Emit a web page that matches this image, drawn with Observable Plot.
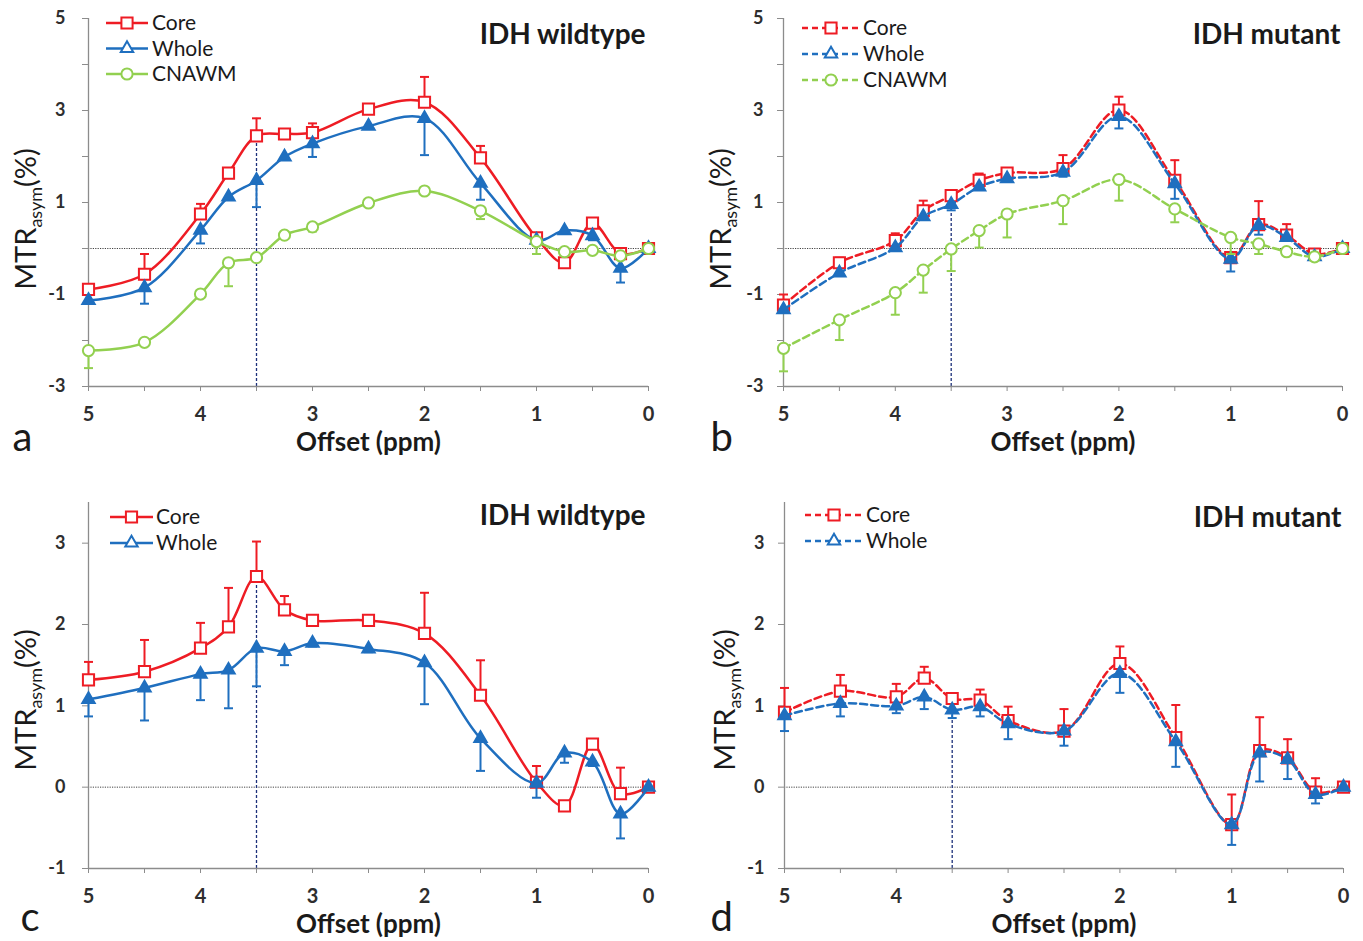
<!DOCTYPE html>
<html><head><meta charset="utf-8">
<script src="https://cdn.jsdelivr.net/npm/d3@7"></script>
<script src="https://cdn.jsdelivr.net/npm/@observablehq/plot@0.6"></script>
<style>
body{margin:0;background:#fff;}
#wrap{position:relative;width:1363px;height:941px;overflow:hidden;background:#fff;}
.panel{position:absolute;}
</style></head><body><div id="wrap"></div>
<script>
// ---------- data ----------
const offsets = [5, 4.5, 4, 3.75, 3.5, 3.25, 3, 2.5, 2, 1.5, 1, 0.75, 0.5, 0.25, 0];
const seriesNames = ["Core", "Whole", "CNAWM"];
const panelTitles = ["IDH wildtype", "IDH mutant", "IDH wildtype", "IDH mutant"];
const panelLetters = ["a", "b", "c", "d"];
const xTicks = [5, 4.5, 4, 3.5, 3, 2.5, 2, 1.5, 1, 0.5, 0];
const xTickLabels = [5, 4, 3, 2, 1, 0];
const yTicksTop = [-3, -2, -1, 0, 1, 2, 3, 4, 5];
const yTickLabelsTop = [-3, -1, 1, 3, 5];
const yTicksBottom = [-1, 0, 1, 2, 3];
const yTickLabelsBottom = [-1, 0, 1, 2, 3];
const guideOffset = 3.5;

// panel a (IDH wildtype, top)
const aCore     = [-0.89, -0.56, 0.75, 1.64, 2.45, 2.49, 2.52, 3.03, 3.18, 1.97, 0.23, -0.31, 0.55, -0.11, 0];
const aCoreErr  = [0.05, 0.44, 0.22, 0.06, 0.38, 0.06, 0.20, 0.06, 0.55, 0.26, 0.06, 0.06, 0.06, 0.08, 0.04];
const aWhole    = [-1.13, -0.85, 0.40, 1.12, 1.48, 1.99, 2.28, 2.66, 2.83, 1.42, 0.18, 0.39, 0.28, -0.43, 0];
const aWholeErr = [0.05, 0.35, 0.29, 0.06, 0.58, 0.05, 0.29, 0.05, 0.80, 0.36, 0.06, 0.05, 0.10, 0.31, 0.03];
const aCnawm    = [-2.22, -2.04, -0.99, -0.31, -0.20, 0.29, 0.47, 0.99, 1.25, 0.82, 0.15, -0.07, -0.04, -0.16, 0];
const aCnawmErr = [0.38, 0.05, 0.05, 0.51, 0.05, 0.06, 0.10, 0.04, 0.05, 0.18, 0.27, 0.06, 0.05, 0.05, 0.03];
// panel b (IDH mutant, top)
const bCore     = [-1.23, -0.31, 0.17, 0.82, 1.15, 1.48, 1.64, 1.74, 3.01, 1.48, -0.20, 0.52, 0.29, -0.12, 0];
const bCoreErr  = [0.23, 0.11, 0.16, 0.22, 0.06, 0.15, 0.11, 0.29, 0.29, 0.44, 0.06, 0.51, 0.24, 0.05, 0.03];
const bWhole    = [-1.33, -0.53, 0.02, 0.69, 0.96, 1.34, 1.52, 1.66, 2.87, 1.41, -0.23, 0.50, 0.24, -0.18, 0];
const bWholeErr = [0.06, 0.06, 0.05, 0.06, 0.13, 0.06, 0.05, 0.10, 0.26, 0.33, 0.27, 0.20, 0.06, 0.05, 0.03];
const bCnawm    = [-2.17, -1.55, -0.96, -0.47, -0.01, 0.39, 0.75, 1.04, 1.50, 0.86, 0.24, 0.10, -0.07, -0.18, 0];
const bCnawmErr = [0.50, 0.44, 0.48, 0.49, 0.48, 0.37, 0.51, 0.51, 0.46, 0.29, 0.36, 0.22, 0.05, 0.05, 0.03];
// panel c (IDH wildtype, bottom)
const cCore     = [1.32, 1.42, 1.71, 1.97, 2.59, 2.18, 2.05, 2.05, 1.89, 1.13, 0.06, -0.23, 0.53, -0.08, 0];
const cCoreErr  = [0.22, 0.39, 0.31, 0.48, 0.43, 0.17, 0.04, 0.04, 0.50, 0.43, 0.20, 0.04, 0.04, 0.32, 0.03];
const cWhole    = [1.08, 1.22, 1.39, 1.44, 1.71, 1.67, 1.77, 1.70, 1.53, 0.60, 0.05, 0.42, 0.31, -0.33, 0];
const cWholeErr = [0.21, 0.40, 0.32, 0.47, 0.47, 0.17, 0.04, 0.04, 0.51, 0.40, 0.18, 0.12, 0.05, 0.30, 0.03];
// panel d (IDH mutant, bottom)
const dCore     = [0.92, 1.18, 1.11, 1.34, 1.09, 1.07, 0.82, 0.69, 1.52, 0.61, -0.46, 0.45, 0.36, -0.06, 0];
const dCoreErr  = [0.30, 0.20, 0.16, 0.14, 0.04, 0.13, 0.17, 0.27, 0.21, 0.40, 0.37, 0.41, 0.23, 0.17, 0.03];
const dWhole    = [0.88, 1.03, 1.00, 1.11, 0.95, 0.99, 0.78, 0.69, 1.40, 0.56, -0.46, 0.42, 0.34, -0.09, 0];
const dWholeErr = [0.19, 0.16, 0.09, 0.15, 0.10, 0.12, 0.19, 0.18, 0.24, 0.31, 0.25, 0.35, 0.24, 0.11, 0.03];

// ---------- styles ----------
const FONT = "Lato, 'Open Sans', sans-serif";
const RED = "#ee1c24", BLUE = "#1f6fbf", GREEN = "#92d050";
const AXIS = "#8c8c8c", LABEL = "#2e2e2e", DARK = "#1a1a1a";
const styleFor = {
  Core:  {color: RED,   symbol: "square",   r: 6.3, fill: "white", dir: 1},
  Whole: {color: BLUE,  symbol: "triangle", r: 4.6, fill: BLUE,    dir: -1},
  CNAWM: {color: GREEN, symbol: "circle",   r: 5.6, fill: "white", dir: -1}
};
const d3Sym = {square: d3.symbolSquare, triangle: d3.symbolTriangle, circle: d3.symbolCircle};
const capSymbol = {draw(ctx, size) { const w = Math.sqrt(size / Math.PI); ctx.moveTo(-w, 0); ctx.lineTo(w, 0); }};

const panels = [
  {left: 0, top: 0, width: 681, height: 470, m: [18, 33, 84, 88], yDomain: [-3, 5], yTicks: yTicksTop, yLabels: yTickLabelsTop,
   dashed: false, vals: [aCore, aWhole, aCnawm], errs: [aCoreErr, aWholeErr, aCnawmErr], yLabDx: -23, xLabDy: 20, offDy: 56,
   titleDx: -3, titleDy: 17, legend: {x0: 106, x1: 148, tx: 152, y0: 23, gap: 25.5}, ylab: {x: 36, y: 219}, letterDx: -76, letterDy: 64},
  {left: 681, top: 0, width: 682, height: 470, m: [18, 21, 84, 102], yDomain: [-3, 5], yTicks: yTicksTop, yLabels: yTickLabelsTop,
   dashed: true, vals: [bCore, bWhole, bCnawm], errs: [bCoreErr, bWholeErr, bCnawmErr], yLabDx: -20, xLabDy: 20, offDy: 56,
   titleDx: -2, titleDy: 17, legend: {x0: 121, x1: 179, tx: 182, y0: 28, gap: 26}, ylab: {x: 50, y: 219}, letterDx: -73, letterDy: 64},
  {left: 0, top: 470, width: 681, height: 471, m: [32, 33, 73, 88], yDomain: [-1, 3.5], yTicks: yTicksBottom, yLabels: yTickLabelsBottom,
   dashed: false, vals: [cCore, cWhole], errs: [cCoreErr, cWholeErr], yLabDx: -23, xLabDy: 20, offDy: 56,
   titleDx: -3, titleDy: 14, legend: {x0: 110, x1: 153, tx: 156, y0: 47, gap: 26}, ylab: {x: 36, y: 230}, letterDx: -68, letterDy: 62},
  {left: 681, top: 470, width: 682, height: 471, m: [32, 20, 73, 103], yDomain: [-1, 3.5], yTicks: yTicksBottom, yLabels: yTickLabelsBottom,
   dashed: true, vals: [dCore, dWhole], errs: [dCoreErr, dWholeErr], yLabDx: -20, xLabDy: 20, offDy: 56,
   titleDx: -2, titleDy: 16, legend: {x0: 124, x1: 182, tx: 185, y0: 45, gap: 26}, ylab: {x: 54, y: 230}, letterDx: -74, letterDy: 62}
];

const wrap = document.getElementById("wrap");

panels.forEach((p, pi) => {
  const [mt, mr, mb, ml] = p.m;
  const names = seriesNames.slice(0, p.vals.length);
  const seriesRows = names.map((name, si) => offsets.map((x, i) => ({
    series: name, x, y: p.vals[si][i],
    yEnd: p.vals[si][i] + styleFor[name].dir * p.errs[si][i]
  })));
  const guideTop = p.vals[0][offsets.indexOf(guideOffset)];
  const dash = p.dashed ? "7,4" : null;

  const marks = [
    Plot.ruleY([0], {stroke: "#444", strokeWidth: 1, strokeDasharray: "1.2,1.2"}),
    Plot.ruleX([guideOffset], {y1: p.yDomain[0], y2: guideTop, stroke: "#1c2f7a", strokeWidth: 1.3, strokeDasharray: "3,2"}),
    Plot.ruleX([5], {stroke: AXIS, strokeWidth: 1.3}),
    Plot.ruleY([p.yDomain[0]], {stroke: AXIS, strokeWidth: 1.3}),
    Plot.axisY({ticks: p.yTicks, tickSize: 6, label: null, stroke: AXIS, tickFormat: () => ""}),
    Plot.axisX({ticks: xTicks, tickSize: 5, label: null, stroke: AXIS, tickFormat: () => ""}),
    Plot.text(p.yLabels, {y: d => d, text: d => String(d), frameAnchor: "left", dx: p.yLabDx, textAnchor: "end",
      lineAnchor: "middle", fontSize: 18, fontWeight: "bold", fill: LABEL}),
    Plot.text(xTickLabels, {x: d => d, text: d => String(d), frameAnchor: "bottom", dy: p.xLabDy,
      lineAnchor: "top", fontSize: 20, fontWeight: "bold", fill: LABEL})
  ];
  names.forEach((name, si) => {
    const s = styleFor[name];
    const rows = seriesRows[si];
    marks.push(
      Plot.line(rows, {x: "x", y: "y", stroke: s.color, strokeWidth: 2.5, curve: "catmull-rom", strokeDasharray: dash}),
      Plot.ruleX(rows, {x: "x", y1: "y", y2: "yEnd", stroke: s.color, strokeWidth: 2}),
      Plot.dot(rows, {x: "x", y: "yEnd", symbol: capSymbol, r: 4.5, stroke: s.color, strokeWidth: 2}),
      Plot.dot(rows, {x: "x", y: "y", symbol: s.symbol, r: s.r, stroke: s.color, fill: s.fill, strokeWidth: 2})
    );
  });
  marks.push(
    Plot.text([panelTitles[pi]], {frameAnchor: "top-right", text: d => d, dx: p.titleDx, dy: p.titleDy,
      textAnchor: "end", lineAnchor: "middle", fontSize: 28, fontWeight: "bold", fill: DARK}),
    Plot.text(["Offset (ppm)"], {frameAnchor: "bottom", text: d => d, dy: p.offDy, lineAnchor: "middle",
      fontSize: 26, fontWeight: "bold", fill: DARK}),
    Plot.text([panelLetters[pi]], {frameAnchor: "bottom-left", text: d => d, dx: p.letterDx, dy: p.letterDy,
      textAnchor: "start", lineAnchor: "bottom", fontSize: 40, fill: DARK})
  );

  const svg = Plot.plot({
    width: p.width, height: p.height,
    marginTop: mt, marginRight: mr, marginBottom: mb, marginLeft: ml,
    x: {domain: [5, 0]},
    y: {domain: p.yDomain},
    style: {fontFamily: FONT, background: "white", overflow: "visible"},
    marks
  });

  const div = document.createElement("div");
  div.className = "panel";
  div.style.left = p.left + "px";
  div.style.top = p.top + "px";
  div.appendChild(svg);
  wrap.appendChild(div);

  const s = d3.select(svg);
  // y axis label with subscript
  const t = s.append("text")
    .attr("transform", `translate(${p.ylab.x},${p.ylab.y}) rotate(-90)`)
    .attr("text-anchor", "middle").attr("fill", DARK)
    .style("font-family", FONT).style("font-size", "29px");
  t.append("tspan").text("MTR");
  t.append("tspan").style("font-size", "18px").attr("dy", 6).text("asym");
  t.append("tspan").attr("dy", -6).text("(%)");

  // legend
  const L = p.legend;
  names.forEach((name, si) => {
    const st = styleFor[name];
    const y = L.y0 + si * L.gap;
    const g = s.append("g");
    g.append("line").attr("x1", L.x0).attr("x2", L.x1).attr("y1", y).attr("y2", y)
      .attr("stroke", st.color).attr("stroke-width", 2.5)
      .attr("stroke-dasharray", p.dashed ? "6,4" : null);
    g.append("path").attr("transform", `translate(${(L.x0 + L.x1) / 2},${y})`)
      .attr("d", d3.symbol(d3Sym[st.symbol], st.r * st.r * Math.PI)())
      .attr("stroke", st.color).attr("stroke-width", 2).attr("fill", "white");
    g.append("text").attr("x", L.tx).attr("y", y).attr("dy", "0.35em").attr("text-anchor", "start")
      .attr("fill", DARK).style("font-family", FONT).style("font-size", "21px").text(name);
  });
});
</script></body></html>
